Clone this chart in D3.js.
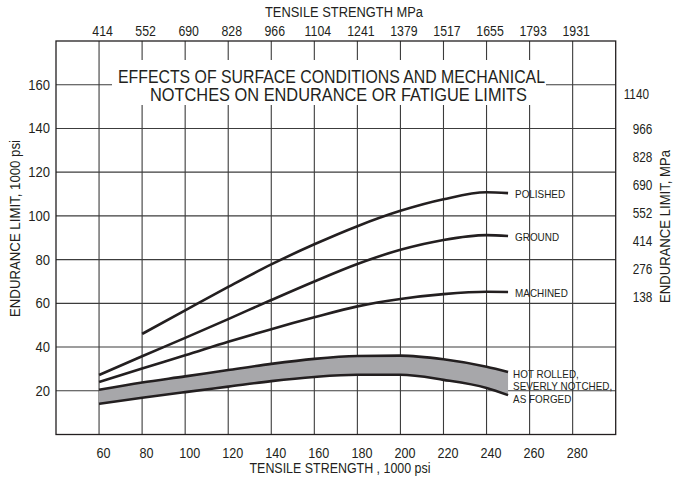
<!DOCTYPE html>
<html>
<head>
<meta charset="utf-8">
<script src="https://cdn.jsdelivr.net/npm/d3@7"></script>
<style>
  html, body { margin: 0; padding: 0; background: #fff; }
  svg { display: block; }
  text { font-family: "Liberation Sans", Arial, Helvetica, sans-serif; fill: #231f20; }
</style>
</head>
<body>
<svg id="chart" width="678" height="479"></svg>
<script>
// Tensile strength (1000 psi) at which each curve is sampled
const tensileKsi = [60, 80, 100, 120, 140, 160, 180, 200, 220, 240, 250];

// Endurance limit (1000 psi) for each surface condition
const polished = [null, 46, 56.8, 67.5, 77.8, 87, 95.3, 102.3, 107.6, 110.8, 110.4];
const ground   = [27.2, 35.8, 44.2, 52.8, 61.5, 70, 78, 84.5, 89, 91.2, 90.8];
const machined = [24, 30.2, 36.2, 42.4, 48.2, 53.6, 58.6, 62, 64.2, 65.3, 65.2];
// Hot rolled / severely notched / as forged band
const bandUpper = [20.5, 23.8, 26.6, 29.5, 32.3, 34.6, 35.9, 36.1, 34.4, 31, 28.6];
const bandLower = [14, 16.8, 19.4, 21.9, 24.4, 26.3, 27.3, 27.3, 25, 21.3, 18];

// Axis ticks
const xTicks = [60, 80, 100, 120, 140, 160, 180, 200, 220, 240, 260, 280];
const topMpaLabels = ["414", "552", "690", "828", "966", "1104", "1241", "1379", "1517", "1655", "1793", "1931"];
const yTicks = [20, 40, 60, 80, 100, 120, 140, 160];
const rightMpaTicks = [138, 276, 414, 552, 690, 828, 966, 1140];

const titleLines = ["EFFECTS OF SURFACE CONDITIONS AND MECHANICAL", "NOTCHES ON ENDURANCE OR FATIGUE LIMITS"];
const curveLabels = [
  { series: "polished", lines: ["POLISHED"] },
  { series: "ground", lines: ["GROUND"] },
  { series: "machined", lines: ["MACHINED"] },
  { series: "band", lines: ["HOT ROLLED,", "SEVERLY NOTCHED,", "AS FORGED"] }
];

const svg = d3.select("#chart");
const plotLeft = 56, plotRight = 615.7, plotTop = 41, plotBottom = 434.5;

const x = d3.scaleLinear().domain([40, 300]).range([plotLeft, plotRight]);
const y = d3.scaleLinear().domain([0, 180]).range([plotBottom, plotTop]);
const yMpa = d3.scaleLinear().domain([-538, 1401]).range([plotBottom, plotTop]);

const ink = "#231f20";
const gridColor = "#3c3c3c";

// Condensed lettering: squeeze each text horizontally to a fraction of its natural width
function condense(sel, factor) {
  sel.each(function () {
    const w = this.getComputedTextLength();
    d3.select(this).attr("textLength", w * factor).attr("lengthAdjust", "spacingAndGlyphs");
  });
}
function fitWidth(sel, width) {
  sel.attr("textLength", width).attr("lengthAdjust", "spacingAndGlyphs");
}

// Grid
const grid = svg.append("g");
grid.selectAll("line.v").data(xTicks).join("line")
  .attr("class", "v")
  .attr("x1", d => x(d)).attr("x2", d => x(d))
  .attr("y1", plotTop).attr("y2", plotBottom)
  .attr("stroke", gridColor).attr("stroke-width", 1.1);
grid.selectAll("line.h").data(yTicks).join("line")
  .attr("class", "h")
  .attr("x1", plotLeft).attr("x2", plotRight)
  .attr("y1", d => y(d)).attr("y2", d => y(d))
  .attr("stroke", gridColor).attr("stroke-width", 1.1);

// Frame
svg.append("rect")
  .attr("x", plotLeft).attr("y", plotTop)
  .attr("width", plotRight - plotLeft).attr("height", plotBottom - plotTop)
  .attr("fill", "none").attr("stroke", ink).attr("stroke-width", 1.3);

// Title panel sits over the grid
svg.append("rect")
  .attr("x", 112).attr("y", 60).attr("width", 434).attr("height", 45)
  .attr("fill", "#fff");
const titleWidths = [427, 377];
svg.append("g").selectAll("text").data(titleLines).join("text")
  .attr("x", (d, i) => i === 0 ? 331.5 : 338.5)
  .attr("y", (d, i) => 83 + i * 18.3)
  .attr("text-anchor", "middle")
  .attr("font-size", 18.5)
  .text(d => d)
  .each(function (d, i) { fitWidth(d3.select(this), titleWidths[i]); });

// Band
const series = { polished, ground, machined };
const pts = arr => tensileKsi.map((t, i) => ({ t, v: arr[i] })).filter(d => d.v != null);
const curve = d3.curveMonotoneX;

const bandData = tensileKsi.map((t, i) => ({ t, hi: bandUpper[i], lo: bandLower[i] }));
svg.append("path")
  .datum(bandData)
  .attr("d", d3.area().x(d => x(d.t)).y0(d => y(d.lo)).y1(d => y(d.hi)).curve(curve))
  .attr("fill", "#a7a7aa");

const line = d3.line().x(d => x(d.t)).y(d => y(d.v)).curve(curve);
[bandUpper, bandLower, polished, ground, machined].forEach(arr => {
  svg.append("path")
    .datum(pts(arr))
    .attr("d", line)
    .attr("fill", "none")
    .attr("stroke", ink)
    .attr("stroke-width", 2.6);
});

// Curve labels at the right end of each curve
const lastT = tensileKsi[tensileKsi.length - 1];
const endValue = s => s === "band"
  ? (bandUpper[bandUpper.length - 1] + bandLower[bandLower.length - 1]) / 2
  : series[s][series[s].length - 1];
const labelFont = 11.5;
curveLabels.forEach(lab => {
  const n = lab.lines.length;
  const y0 = y(endValue(lab.series)) + labelFont * (0.43 - (n - 1) * 0.46);
  lab.lines.forEach((s, i) => {
    svg.append("text")
      .attr("x", x(lastT) + (n > 1 ? 5 : 7))
      .attr("y", y0 + i * labelFont * 1.09)
      .attr("font-size", labelFont)
      .text(s)
      .call(condense, 0.86);
  });
});

// Bottom axis (1000 psi)
const xAxis = svg.append("g")
  .attr("transform", `translate(0,${plotBottom})`)
  .call(d3.axisBottom(x).tickValues(xTicks).tickSize(0).tickPadding(14).tickFormat(d3.format("d")));
xAxis.select(".domain").remove();
xAxis.attr("font-family", null);
xAxis.selectAll("text").attr("font-size", 14).attr("dx", 4).attr("fill", ink).call(condense, 0.9);

// Top axis (MPa)
const xTop = svg.append("g")
  .attr("transform", `translate(0,${plotTop})`)
  .call(d3.axisTop(x).tickValues(xTicks).tickSize(0).tickPadding(5.5).tickFormat((d, i) => topMpaLabels[i]));
xTop.select(".domain").remove();
xTop.attr("font-family", null);
xTop.selectAll("text").attr("font-size", 14).attr("dx", 3).attr("fill", ink).call(condense, 0.88);

// Left axis (1000 psi)
const yAxis = svg.append("g")
  .attr("transform", `translate(${plotLeft},0)`)
  .call(d3.axisLeft(y).tickValues(yTicks).tickSize(0).tickPadding(6));
yAxis.select(".domain").remove();
yAxis.attr("font-family", null);
yAxis.selectAll("text").attr("font-size", 14).attr("fill", ink).call(condense, 0.93);

// Right axis (MPa)
const yRight = svg.append("g")
  .attr("transform", `translate(${plotRight},0)`)
  .call(d3.axisRight(yMpa).tickValues(rightMpaTicks).tickSize(0).tickPadding(17).tickFormat(d3.format("d")));
yRight.select(".domain").remove();
yRight.attr("font-family", null);
yRight.selectAll("text").attr("font-size", 14).attr("fill", ink)
  .attr("dx", d => d >= 1000 ? -9 : 0)
  .call(condense, 0.84);

// Axis titles
svg.append("text").attr("x", 344).attr("y", 17).attr("text-anchor", "middle")
  .attr("font-size", 14).text("TENSILE STRENGTH  MPa").call(fitWidth, 158);
svg.append("text").attr("x", 340).attr("y", 473).attr("text-anchor", "middle")
  .attr("font-size", 14).text("TENSILE STRENGTH ,  1000 psi").call(fitWidth, 181);
svg.append("text").attr("transform", "translate(19.5,228.5) rotate(-90)").attr("text-anchor", "middle")
  .attr("font-size", 14).text("ENDURANCE  LIMIT, 1000 psi").call(fitWidth, 177);
svg.append("text").attr("transform", "translate(670,226.5) rotate(-90)").attr("text-anchor", "middle")
  .attr("font-size", 14).text("ENDURANCE  LIMIT, MPa").call(fitWidth, 153);
</script>
</body>
</html>
